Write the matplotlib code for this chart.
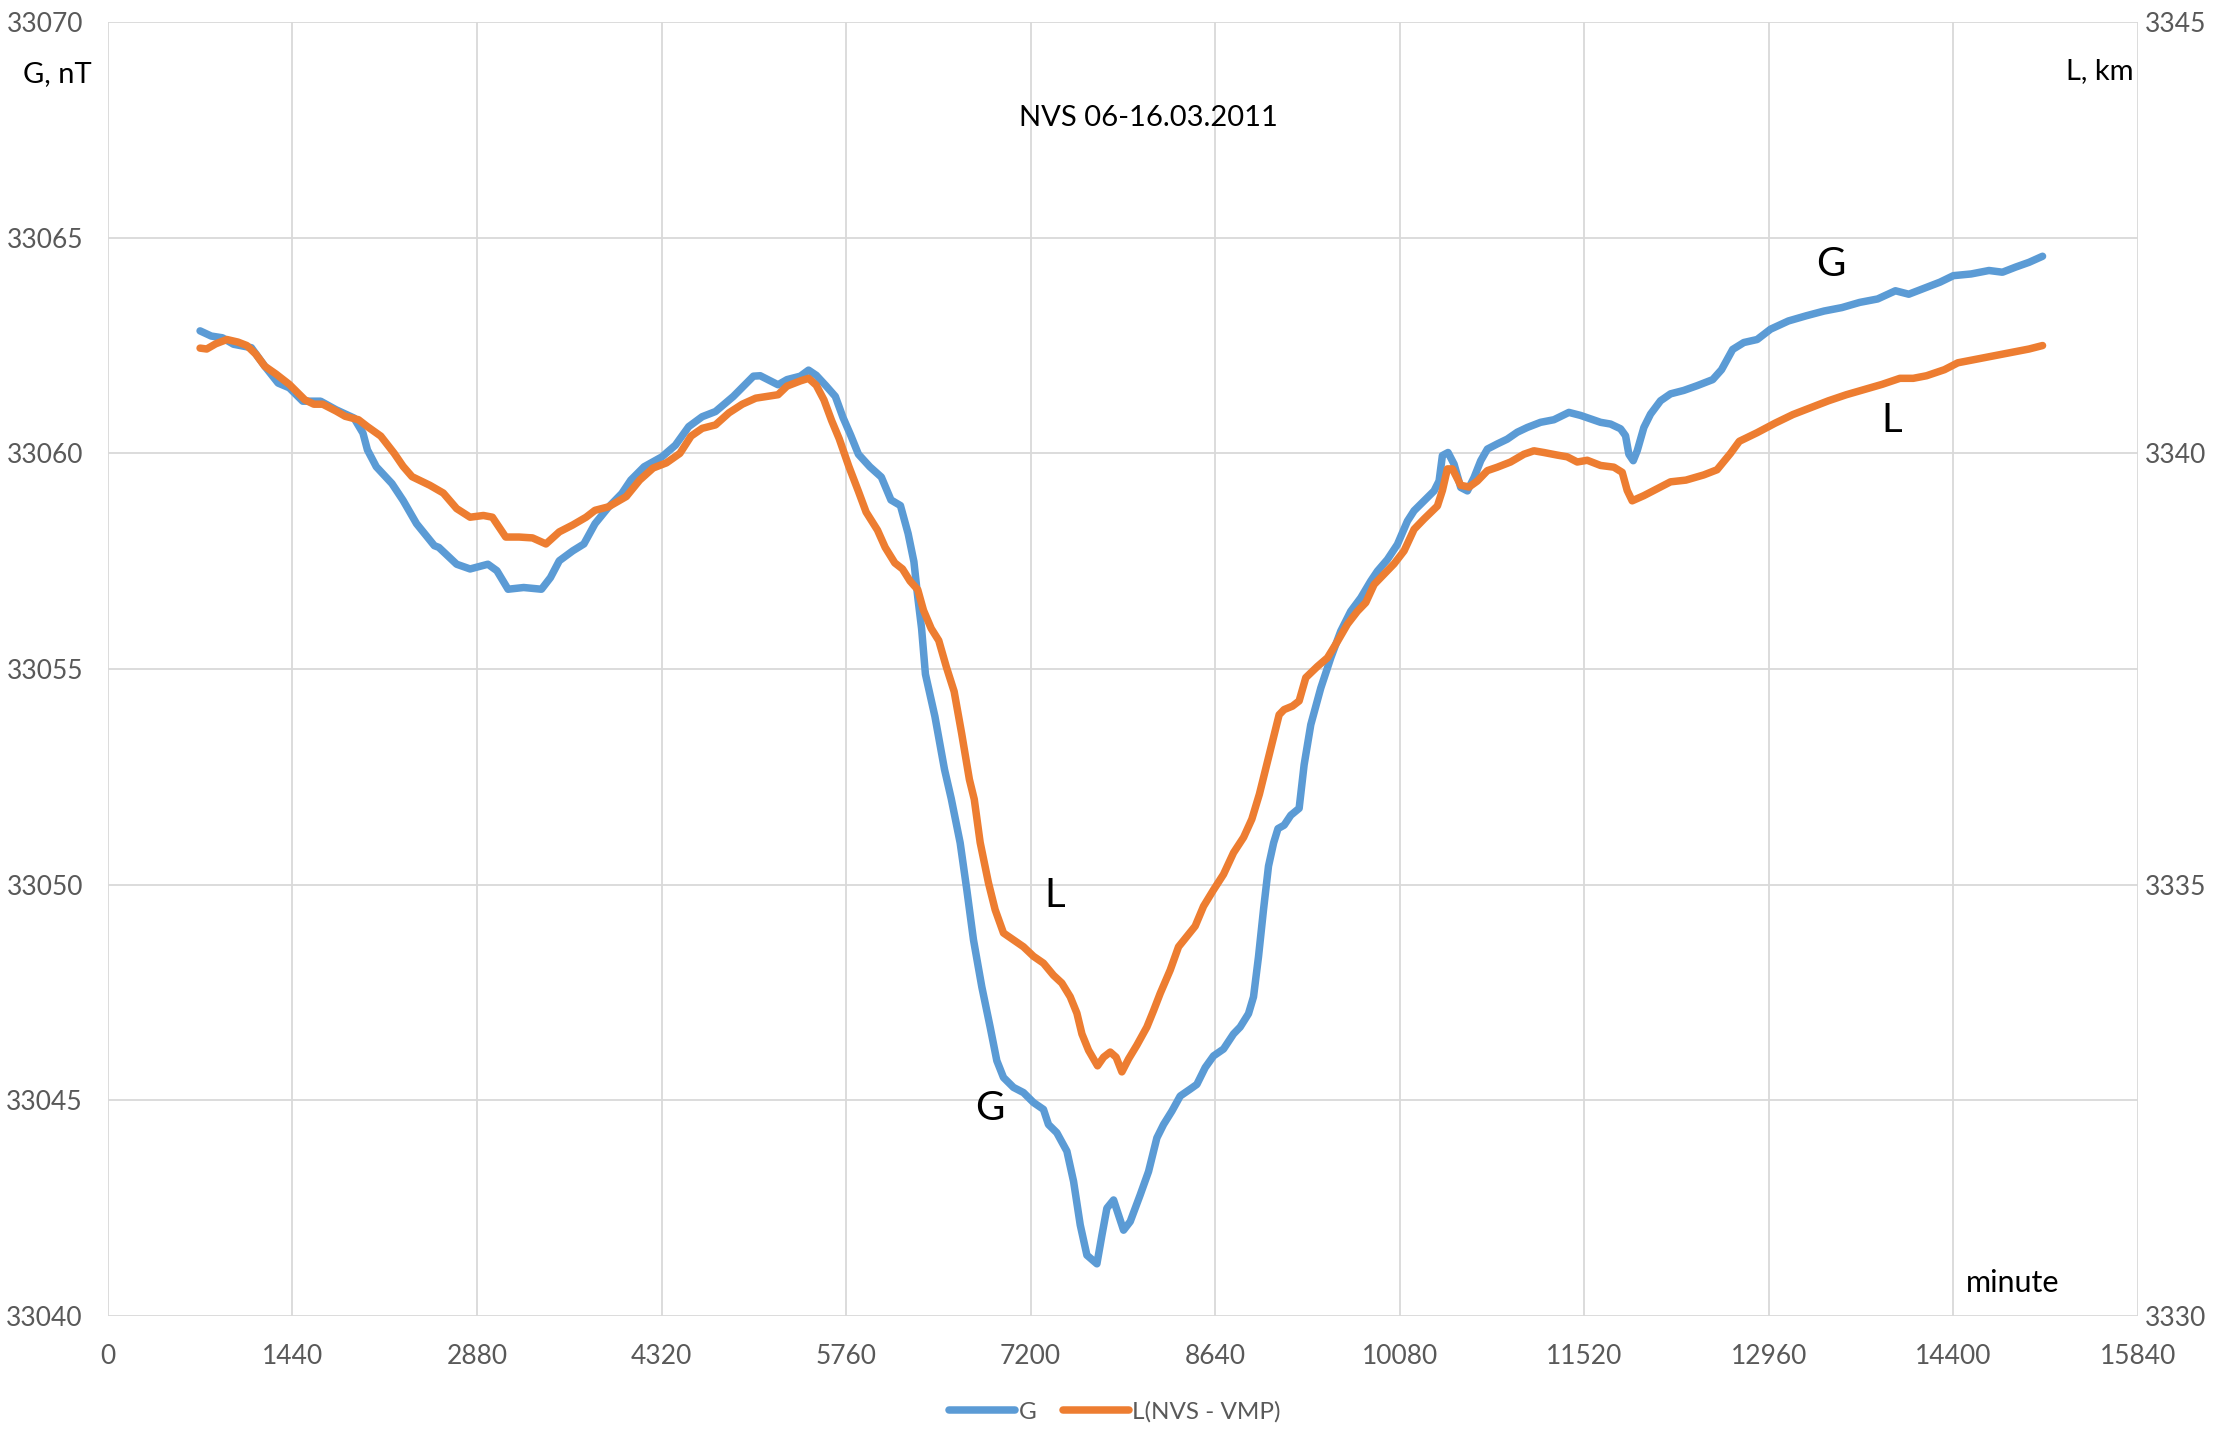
import numpy as np
import matplotlib
matplotlib.use("Agg")
import matplotlib.pyplot as plt

# ---- data ----
# G, nT (left axis)
g_minute = [719, 806, 893, 980, 1119, 1224, 1328, 1415, 1520, 1659, 1781, 1920, 1990, 2025, 2094,
            2216, 2303, 2408, 2547, 2582, 2721, 2826, 2965, 3035, 3122, 3244, 3383, 3453, 3522,
            3627, 3714, 3801, 3905, 4010, 4080, 4184, 4323, 4428, 4532, 4637, 4741, 4880, 5037,
            5090, 5229, 5299, 5403, 5467, 5527, 5602, 5676, 5736, 5796, 5856, 5945, 6035, 6110,
            6184, 6244, 6289, 6319, 6349, 6379, 6453, 6528, 6580, 6650, 6702, 6754, 6819, 6884,
            6936, 6988, 7066, 7144, 7222, 7300, 7339, 7404, 7483, 7535, 7587, 7639, 7717, 7756,
            7795, 7847, 7886, 7925, 7977, 8055, 8120, 8185, 8237, 8302, 8367, 8445, 8497, 8562,
            8627, 8705, 8783, 8835, 8900, 8939, 8978, 9017, 9056, 9096, 9130, 9178, 9230, 9295,
            9334, 9386, 9464, 9542, 9620, 9698, 9776, 9854, 9906, 9984, 10062, 10140, 10192,
            10270, 10348, 10387, 10413, 10457, 10504, 10556, 10608, 10660, 10712, 10764, 10842,
            10919, 10997, 11075, 11179, 11283, 11400, 11491, 11569, 11647, 11725, 11803, 11842,
            11868, 11902, 11933, 11985, 12037, 12115, 12193, 12297, 12401, 12522, 12591, 12678,
            12765, 12869, 12974, 13113, 13252, 13391, 13530, 13669, 13809, 13948, 14052, 14191,
            14296, 14400, 14539, 14678, 14783, 14887, 14991, 15096]
g_nt = [33062.84, 33062.72, 33062.68, 33062.53, 33062.45, 33062.02, 33061.63, 33061.52, 33061.21,
        33061.21, 33061.01, 33060.82, 33060.47, 33060.08, 33059.69, 33059.30, 33058.91, 33058.37,
        33057.86, 33057.82, 33057.43, 33057.32, 33057.43, 33057.28, 33056.85, 33056.89, 33056.85,
        33057.12, 33057.51, 33057.74, 33057.90, 33058.37, 33058.75, 33059.07, 33059.38, 33059.69,
        33059.92, 33060.19, 33060.62, 33060.85, 33060.97, 33061.32, 33061.79, 33061.80, 33061.59,
        33061.71, 33061.79, 33061.93, 33061.81, 33061.57, 33061.32, 33060.83, 33060.42, 33059.98,
        33059.69, 33059.45, 33058.92, 33058.79, 33058.14, 33057.49, 33056.67, 33055.94, 33054.88,
        33053.90, 33052.67, 33052.00, 33050.97, 33049.88, 33048.72, 33047.63, 33046.70, 33045.92,
        33045.53, 33045.30, 33045.18, 33044.95, 33044.79, 33044.44, 33044.25, 33043.82, 33043.12,
        33042.11, 33041.41, 33041.21, 33041.87, 33042.50, 33042.69, 33042.34, 33041.99, 33042.19,
        33042.81, 33043.35, 33044.13, 33044.44, 33044.75, 33045.10, 33045.26, 33045.37, 33045.76,
        33046.03, 33046.19, 33046.54, 33046.70, 33047.01, 33047.40, 33048.33, 33049.42, 33050.43,
        33050.97, 33051.30, 33051.38, 33051.61, 33051.77, 33052.78, 33053.71, 33054.56, 33055.26,
        33055.88, 33056.34, 33056.65, 33057.04, 33057.27, 33057.54, 33057.89, 33058.43, 33058.67,
        33058.90, 33059.13, 33059.36, 33059.95, 33060.02, 33059.75, 33059.21, 33059.13, 33059.44,
        33059.83, 33060.10, 33060.22, 33060.33, 33060.49, 33060.60, 33060.72, 33060.78, 33060.95,
        33060.88, 33060.80, 33060.72, 33060.68, 33060.57, 33060.41, 33059.98, 33059.83, 33060.06,
        33060.60, 33060.91, 33061.22, 33061.38, 33061.46, 33061.57, 33061.71, 33061.94, 33062.41,
        33062.57, 33062.64, 33062.88, 33063.07, 33063.19, 33063.30, 33063.38, 33063.50, 33063.58,
        33063.77, 33063.69, 33063.85, 33063.97, 33064.12, 33064.16, 33064.24, 33064.20, 33064.32,
        33064.43, 33064.57]

# L(NVS - VMP), km (right axis)
l_minute = [719, 771, 841, 928, 1015, 1084, 1154, 1224, 1311, 1415, 1537, 1607, 1676, 1781, 1851,
            1955, 2025, 2129, 2234, 2303, 2373, 2512, 2617, 2721, 2826, 2930, 3000, 3104, 3209,
            3313, 3418, 3522, 3627, 3731, 3801, 3905, 4045, 4149, 4254, 4358, 4463, 4550, 4637,
            4741, 4846, 4950, 5055, 5229, 5299, 5403, 5467, 5527, 5587, 5647, 5706, 5781, 5856,
            5916, 6005, 6065, 6140, 6200, 6259, 6319, 6364, 6424, 6483, 6543, 6603, 6662, 6722,
            6760, 6806, 6871, 6923, 6988, 7066, 7144, 7222, 7300, 7378, 7443, 7509, 7561, 7600,
            7652, 7722, 7769, 7821, 7867, 7912, 7964, 8029, 8107, 8159, 8211, 8289, 8354, 8419,
            8484, 8549, 8627, 8705, 8783, 8862, 8926, 8985, 9074, 9139, 9178, 9243, 9295, 9347,
            9438, 9516, 9594, 9672, 9750, 9815, 9880, 9958, 10036, 10114, 10192, 10270, 10374,
            10413, 10452, 10491, 10556, 10621, 10686, 10764, 10842, 10945, 11049, 11127, 11205,
            11309, 11387, 11465, 11543, 11647, 11751, 11816, 11855, 11894, 11985, 12089, 12193,
            12313, 12452, 12556, 12661, 12730, 12869, 13009, 13148, 13287, 13426, 13565, 13705,
            13844, 13983, 14087, 14191, 14330, 14435, 14574, 14713, 14852, 14991, 15096]
l_km = [3341.22, 3341.21, 3341.27, 3341.32, 3341.29, 3341.25, 3341.15, 3341.01, 3340.92, 3340.80,
        3340.62, 3340.57, 3340.57, 3340.49, 3340.43, 3340.39, 3340.31, 3340.20, 3340.00, 3339.85,
        3339.73, 3339.63, 3339.54, 3339.36, 3339.26, 3339.28, 3339.26, 3339.03, 3339.03, 3339.02,
        3338.95, 3339.09, 3339.17, 3339.26, 3339.34, 3339.38, 3339.50, 3339.69, 3339.83, 3339.89,
        3340.00, 3340.20, 3340.29, 3340.33, 3340.47, 3340.57, 3340.64, 3340.68, 3340.78, 3340.84,
        3340.87, 3340.79, 3340.62, 3340.38, 3340.17, 3339.85, 3339.56, 3339.32, 3339.11, 3338.91,
        3338.73, 3338.66, 3338.52, 3338.42, 3338.18, 3337.97, 3337.83, 3337.52, 3337.24, 3336.75,
        3336.22, 3335.99, 3335.49, 3335.02, 3334.71, 3334.44, 3334.36, 3334.28, 3334.17, 3334.09,
        3333.95, 3333.86, 3333.70, 3333.51, 3333.27, 3333.08, 3332.90, 3333.00, 3333.06, 3333.00,
        3332.83, 3332.98, 3333.14, 3333.35, 3333.54, 3333.74, 3334.01, 3334.28, 3334.40, 3334.52,
        3334.75, 3334.94, 3335.12, 3335.37, 3335.55, 3335.76, 3336.05, 3336.58, 3336.97, 3337.03,
        3337.07, 3337.13, 3337.40, 3337.53, 3337.63, 3337.82, 3338.02, 3338.17, 3338.27, 3338.48,
        3338.60, 3338.72, 3338.87, 3339.12, 3339.24, 3339.39, 3339.57, 3339.82, 3339.82, 3339.63,
        3339.61, 3339.68, 3339.80, 3339.84, 3339.90, 3339.99, 3340.03, 3340.01, 3339.98, 3339.96,
        3339.90, 3339.92, 3339.86, 3339.84, 3339.78, 3339.57, 3339.45, 3339.51, 3339.59, 3339.67,
        3339.69, 3339.75, 3339.81, 3340.00, 3340.14, 3340.24, 3340.35, 3340.45, 3340.53, 3340.61,
        3340.68, 3340.74, 3340.80, 3340.87, 3340.87, 3340.90, 3340.97, 3341.05, 3341.09, 3341.13,
        3341.17, 3341.21, 3341.25]

x_ticks = list(range(0, 15841, 1440))
g_ticks = [33040, 33045, 33050, 33055, 33060, 33065, 33070]
l_ticks = [3330, 3335, 3340, 3345]

BLUE = "#5B9BD5"
ORANGE = "#ED7D31"
GRID = "#D9D9D9"
TICK = "#595959"

plt.rcParams["font.family"] = ["Lato", "DejaVu Sans"]

fig = plt.figure(figsize=(22.30, 14.32), dpi=100)
ax = fig.add_axes([0.0484, 0.0810, 0.9103, 0.9036])
ax2 = ax.twinx()

ax.plot(g_minute, g_nt, color=BLUE, lw=5.4, solid_capstyle="round",
        solid_joinstyle="round", label="G", zorder=3)
ax2.plot(l_minute, l_km, color=ORANGE, lw=5.4, solid_capstyle="round",
         solid_joinstyle="round", label="L(NVS - VMP)", zorder=3)

ax.set_xlim(0, 15840)
ax.set_ylim(33040, 33070)
ax2.set_ylim(3330, 3345)
ax.set_xticks(x_ticks)
ax.set_yticks(g_ticks)
ax2.set_yticks(l_ticks)

ax.grid(True, color=GRID, lw=1.3)
ax.set_axisbelow(True)
for a in (ax, ax2):
    for s in a.spines.values():
        s.set_visible(False)
    a.tick_params(length=0, labelsize=19, labelcolor=TICK)
ax.tick_params(axis="x", pad=20)
ax.tick_params(axis="y", pad=18)
ax2.tick_params(axis="y", pad=5)

# annotations
ax.text(13440, 33064.39, "G", fontsize=29, ha="center", va="center")
ax.text(13916, 33060.77, "L", fontsize=29, ha="center", va="center")
ax.text(7384, 33049.74, "L", fontsize=29, ha="center", va="center")
ax.text(6884, 33044.82, "G", fontsize=29, ha="center", va="center")
ax.text(14861, 33040.76, "minute", fontsize=22, ha="center", va="center")
ax.text(8117, 33067.77, "NVS 06-16.03.2011", fontsize=21, ha="center", va="center")
fig.text(23 / 2230, 1 - 74 / 1432, "G, nT", fontsize=21, ha="left", va="center")
fig.text(2133 / 2230, 1 - 71 / 1432, "L, km", fontsize=21, ha="right", va="center")

h1, l1 = ax.get_legend_handles_labels()
h2, l2 = ax2.get_legend_handles_labels()
fig.legend(h1 + h2, l1 + l2, loc="center", bbox_to_anchor=(0.5, 0.014), ncol=2,
           frameon=False, fontsize=17.5, labelcolor=TICK, handlelength=2.7,
           handletextpad=0.15, columnspacing=1.1)

fig.savefig("out.png", dpi=100)
